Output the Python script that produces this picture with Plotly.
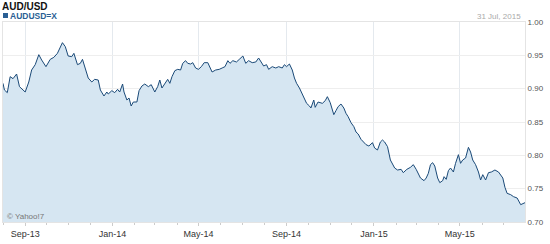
import plotly.graph_objects as go

dates = [
 "2013-08-01","2013-08-03","2013-08-07","2013-08-11","2013-08-15","2013-08-20","2013-08-24","2013-08-29",
 "2013-09-01","2013-09-06","2013-09-10","2013-09-15","2013-09-20","2013-09-24","2013-09-30","2013-10-06",
 "2013-10-11","2013-10-16","2013-10-20","2013-10-23","2013-10-27","2013-10-31","2013-11-05","2013-11-08",
 "2013-11-13","2013-11-17","2013-11-20","2013-11-24","2013-11-28","2013-12-03","2013-12-07","2013-12-12",
 "2013-12-15","2013-12-20","2013-12-24","2013-12-26","2013-12-31","2014-01-04","2014-01-08","2014-01-11",
 "2014-01-15","2014-01-17","2014-01-21","2014-01-24","2014-01-27","2014-01-30","2014-02-04","2014-02-07",
 "2014-02-11","2014-02-15","2014-02-20","2014-02-24","2014-03-01","2014-03-05","2014-03-08","2014-03-11",
 "2014-03-15","2014-03-19","2014-03-22","2014-03-25","2014-03-29","2014-04-02","2014-04-06","2014-04-09",
 "2014-04-13","2014-04-16","2014-04-20","2014-04-23","2014-04-27","2014-05-01","2014-05-05","2014-05-09",
 "2014-05-14","2014-05-20","2014-05-25","2014-05-30","2014-06-03","2014-06-07","2014-06-11","2014-06-14",
 "2014-06-18","2014-06-23","2014-06-27","2014-07-02","2014-07-06","2014-07-10","2014-07-15","2014-07-20",
 "2014-07-24","2014-07-28","2014-07-31","2014-08-04","2014-08-07","2014-08-12","2014-08-17","2014-08-21",
 "2014-08-26","2014-08-29","2014-09-01","2014-09-05","2014-09-09","2014-09-12","2014-09-15","2014-09-19",
 "2014-09-23","2014-09-26","2014-09-29","2014-10-03","2014-10-05","2014-10-09","2014-10-11","2014-10-15",
 "2014-10-17","2014-10-21","2014-10-25","2014-10-28","2014-11-01","2014-11-06","2014-11-09","2014-11-12",
 "2014-11-16","2014-11-20","2014-11-23","2014-11-26","2014-11-30","2014-12-04","2014-12-07","2014-12-10",
 "2014-12-14","2014-12-18","2014-12-21","2014-12-25","2014-12-30","2015-01-02","2015-01-06","2015-01-10",
 "2015-01-13","2015-01-16","2015-01-20","2015-01-24","2015-01-27","2015-01-30","2015-02-03","2015-02-08",
 "2015-02-11","2015-02-16","2015-02-21","2015-02-25","2015-03-01","2015-03-04","2015-03-07","2015-03-12",
 "2015-03-15","2015-03-18","2015-03-21","2015-03-24","2015-03-27","2015-03-31","2015-04-03","2015-04-07",
 "2015-04-09","2015-04-12","2015-04-15","2015-04-18","2015-04-22","2015-04-25","2015-04-29","2015-05-02",
 "2015-05-05","2015-05-09","2015-05-13","2015-05-16","2015-05-19","2015-05-23","2015-05-27","2015-05-30",
 "2015-06-02","2015-06-06","2015-06-10","2015-06-14","2015-06-19","2015-06-24","2015-06-27","2015-06-30",
 "2015-07-03","2015-07-06","2015-07-11","2015-07-15","2015-07-20","2015-07-25","2015-07-31",
]
rates = [
 0.908,0.898,0.894,0.918,0.915,0.922,0.903,0.898,
 0.895,0.910,0.928,0.936,0.951,0.943,0.933,0.944,
 0.947,0.953,0.963,0.969,0.963,0.949,0.948,0.953,
 0.936,0.938,0.944,0.928,0.916,0.910,0.914,0.913,
 0.898,0.889,0.895,0.892,0.897,0.894,0.899,0.895,
 0.907,0.895,0.883,0.886,0.874,0.880,0.880,0.897,
 0.904,0.907,0.903,0.906,0.895,0.903,0.913,0.901,
 0.907,0.914,0.908,0.918,0.927,0.929,0.928,0.938,
 0.942,0.938,0.937,0.939,0.931,0.929,0.933,0.939,
 0.939,0.925,0.928,0.929,0.931,0.933,0.942,0.938,
 0.942,0.940,0.944,0.949,0.938,0.942,0.939,0.940,
 0.946,0.940,0.934,0.936,0.929,0.933,0.931,0.933,
 0.931,0.936,0.933,0.937,0.928,0.916,0.908,0.901,
 0.892,0.884,0.878,0.874,0.871,0.883,0.872,0.880,
 0.879,0.878,0.882,0.888,0.879,0.861,0.867,0.873,
 0.877,0.871,0.863,0.858,0.849,0.843,0.835,0.832,
 0.824,0.820,0.816,0.814,0.819,0.811,0.808,0.820,
 0.823,0.820,0.813,0.793,0.788,0.781,0.778,0.779,
 0.774,0.779,0.782,0.786,0.779,0.773,0.766,0.762,
 0.766,0.773,0.786,0.789,0.784,0.766,0.759,0.762,
 0.768,0.764,0.777,0.781,0.775,0.788,0.801,0.788,
 0.793,0.796,0.812,0.805,0.793,0.786,0.775,0.763,
 0.771,0.763,0.774,0.775,0.778,0.775,0.771,0.766,
 0.752,0.743,0.741,0.738,0.736,0.726,0.729,
]

y_ticks = [0.70, 0.75, 0.80, 0.85, 0.90, 0.95, 1.00]
title_text = "AUD/USD"
series_name = "AUDUSD=X"
date_text = "31 Jul, 2015"
credit_text = "© Yahoo!7"

fig = go.Figure()
fig.add_trace(go.Scatter(
    x=dates, y=rates, mode="lines", name=series_name,
    line=dict(color="#1b4a78", width=1),
    fill="tozeroy", fillcolor="rgb(214,230,242)",
    hoverinfo="skip",
))

font = "Liberation Sans, Arial, sans-serif"
fig.update_layout(
    width=550, height=244,
    margin=dict(l=3, r=25, t=22, b=22),
    paper_bgcolor="white", plot_bgcolor="white",
    showlegend=False,
    font=dict(family=font, size=9, color="#333"),
)
fig.update_xaxes(
    range=["2013-08-01", "2015-07-31"],
    tick0="2013-09-01", dtick="M4", tickformat="%b-%y",
    showgrid=True, gridcolor="#e4e9ee", gridwidth=1,
    ticks="outside", ticklen=3, tickcolor="#ccc",
    minor=dict(dtick="M1", ticks="outside", ticklen=2, tickcolor="#ccc", showgrid=False),
    showline=True, linecolor="#e4e4e4", mirror=True,
    tickfont=dict(size=9, color="#333"),
    zeroline=False,
)
fig.update_yaxes(
    range=[0.70, 1.00], side="right",
    tickvals=y_ticks, ticktext=[f"{v:.2f}" for v in y_ticks],
    showgrid=True, gridcolor="#eeeeee", gridwidth=1,
    showline=True, linecolor="#e4e4e4", mirror=True,
    tickfont=dict(size=8, color="#555"),
    zeroline=False, ticks="",
)
fig.add_annotation(text="<b>" + title_text + "</b>", xref="paper", yref="paper",
                   x=0, y=1, xshift=-3, yshift=16, xanchor="left", yanchor="middle",
                   showarrow=False, font=dict(size=10, color="#111", family=font))
fig.add_annotation(text="<b>" + series_name + "</b>", xref="paper", yref="paper",
                   x=0, y=1, xshift=5, yshift=6, xanchor="left", yanchor="middle",
                   showarrow=False, font=dict(size=8.5, color="#2a5f94", family=font))
fig.add_shape(type="rect", xref="paper", yref="paper", xsizemode="pixel", ysizemode="pixel",
              xanchor=0, yanchor=1, x0=0, x1=5, y0=4, y1=9,
              fillcolor="#2a5f94", line=dict(width=0))
fig.add_annotation(text=date_text, xref="paper", yref="paper",
                   x=1, y=1, xshift=-2, yshift=6, xanchor="right", yanchor="middle",
                   showarrow=False, font=dict(size=8, color="#aaa", family=font))
fig.add_annotation(text=credit_text, xref="paper", yref="paper",
                   x=0, y=0, xshift=2, yshift=6, xanchor="left", yanchor="middle",
                   showarrow=False, font=dict(size=8, color="#777", family=font))

fig.write_html("out.html")
